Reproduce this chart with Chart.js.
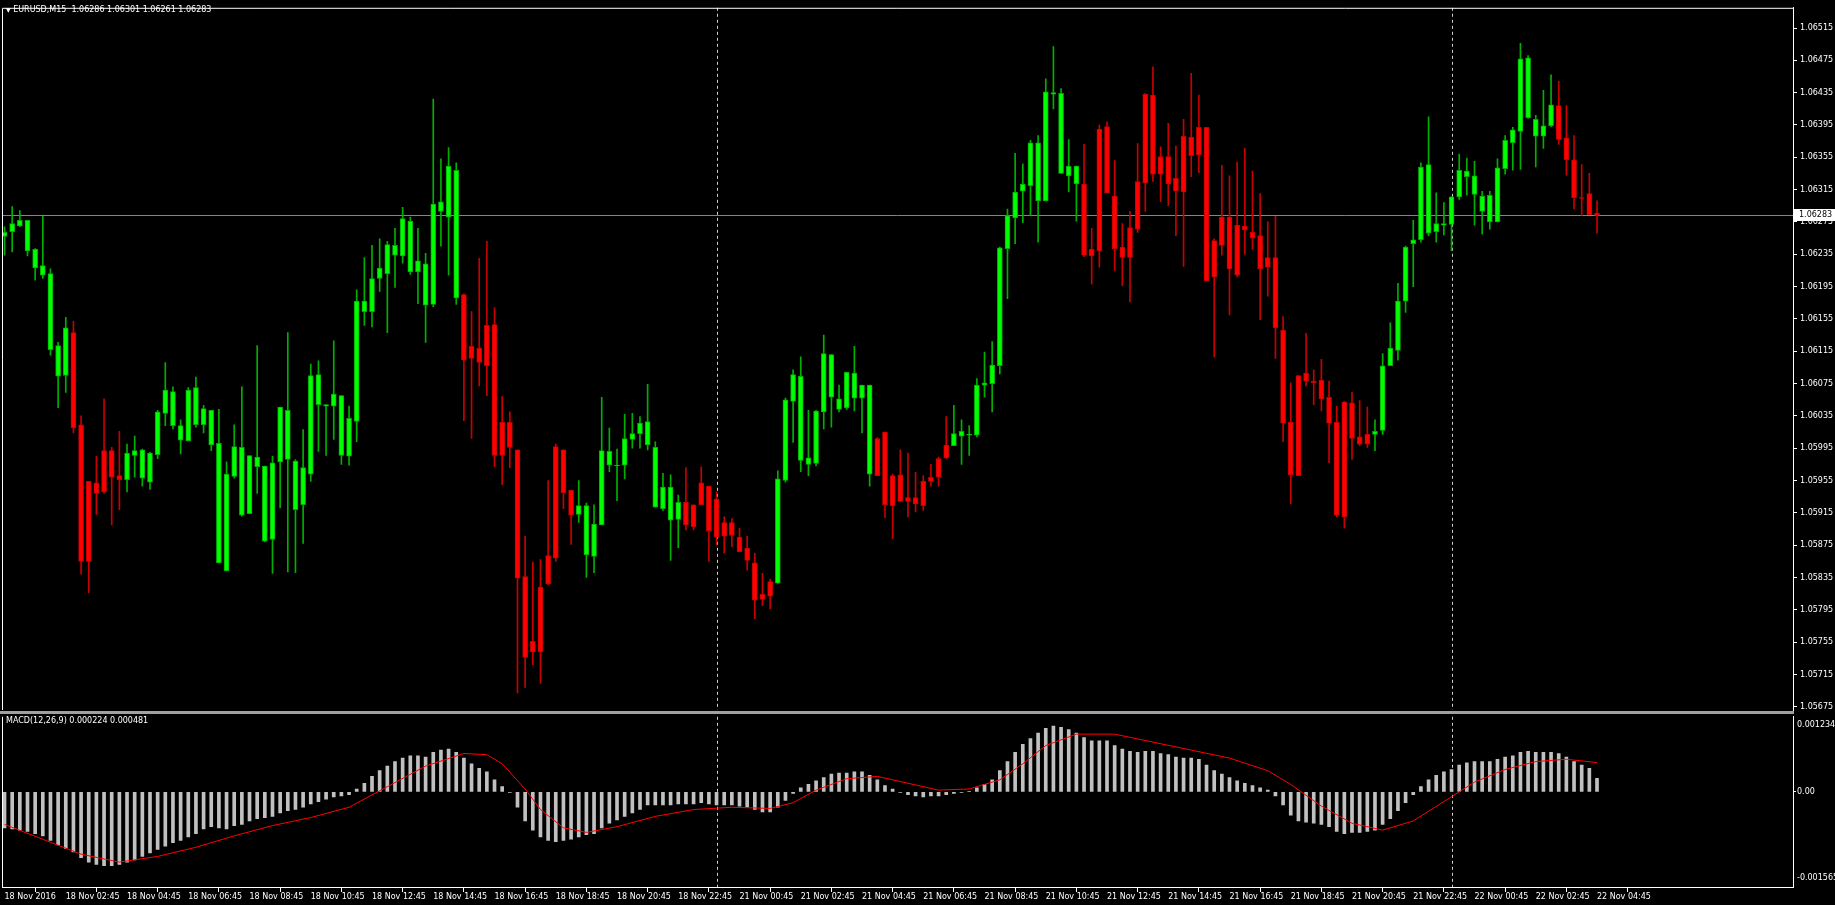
<!DOCTYPE html>
<html>
<head>
<meta charset="utf-8">
<title>EURUSD,M15</title>
<script src="https://cdn.jsdelivr.net/npm/chart.js@4.4.0/dist/chart.umd.min.js"></script>
<style>
  body { margin: 0; background: #000; width: 1835px; height: 905px; overflow: hidden; position: relative; font-family: "DejaVu Sans", sans-serif; }
  canvas { position: absolute; left: 0; }
  #price { top: 0; }
  #macd { top: 711px; }
  .lbl { position: absolute; color: #fff; font-size: 8px; white-space: pre; line-height: 10px; }
  .tri { font-size: 6px; }
</style>
</head>
<body>
<canvas id="price" width="1835" height="725"></canvas>
<canvas id="macd" width="1835" height="194"></canvas>
<div class="lbl" style="left:6px;top:5px;"><span class="tri">&#9660;</span> EURUSD,M15  1.06286 1.06301 1.06261 1.06283</div>
<div class="lbl" style="left:6px;top:716px;">MACD(12,26,9) 0.000224 0.000481</div>
<script>
// EURUSD M15, 18 Nov 2016 00:45 .. 22 Nov 2016 04:45 (bar 0 .. bar 208)
var open = [1.06257,1.06263,1.06270,1.06239,1.06218,1.06209,1.06117,1.06084,1.06085,1.06138,
  1.06024,1.05954,1.05952,1.05992,1.05992,1.05961,1.05956,1.05986,1.05958,1.05953,
  1.05987,1.06038,1.06023,1.06005,1.06004,1.06024,1.06024,1.05999,1.05853,1.05843,
  1.05960,1.05912,1.05914,1.05972,1.05880,1.05882,1.05978,1.05981,1.05919,1.05925,
  1.05963,1.06049,1.06047,1.06047,1.05986,1.05985,1.06028,1.06164,1.06164,1.06205,
  1.06211,1.06234,1.06233,1.06213,1.06213,1.06172,1.06173,1.06288,1.06281,1.06181,
  1.06185,1.06121,1.06119,1.06147,1.06148,1.06027,1.06027,1.05993,1.05836,1.05756,
  1.05823,1.05862,1.05997,1.05993,1.05943,1.05913,1.05863,1.05861,1.05900,1.05974,
  1.05973,1.05974,1.06006,1.06013,1.05999,1.05922,1.05920,1.05906,1.05907,1.05928,
  1.05925,1.05952,1.05948,1.05932,1.05903,1.05903,1.05885,1.05871,1.05853,1.05814,
  1.05830,1.05828,1.05955,1.06053,1.05980,1.05975,1.05976,1.06040,1.06058,1.06043,
  1.06045,1.06057,1.06057,1.05963,1.06007,1.06015,1.05961,1.05962,1.05934,1.05934,
  1.05954,1.05959,1.05982,1.05999,1.05998,1.06010,1.06011,1.06011,1.06073,1.06075,
  1.06097,1.06242,1.06280,1.06313,1.06320,1.06301,1.06301,1.06433,1.06335,1.06332,
  1.06322,1.06322,1.06241,1.06390,1.06393,1.06307,1.06244,1.06268,1.06325,1.06433,
  1.06432,1.06356,1.06356,1.06329,1.06381,1.06380,1.06392,1.06392,1.06252,1.06281,
  1.06281,1.06271,1.06270,1.06262,1.06258,1.06231,1.06231,1.06141,1.06027,1.06085,
  1.06088,1.06078,1.06079,1.06058,1.06027,1.06052,1.06051,1.06009,1.06012,1.06012,
  1.06017,1.06097,1.06116,1.06177,1.06248,1.06253,1.06261,1.06263,1.06271,1.06272,
  1.06306,1.06331,1.06309,1.06288,1.06275,1.06275,1.06341,1.06373,1.06387,1.06404,
  1.06381,1.06381,1.06394,1.06419,1.06379,1.06352,1.06305,1.06310,1.06286];
var high = [1.06269,1.06294,1.06289,1.06277,1.06242,1.06282,1.06217,1.06126,1.06157,1.06152,
  1.06035,1.05954,1.05985,1.06056,1.05996,1.06016,1.06000,1.06010,1.05994,1.05990,
  1.06042,1.06101,1.06071,1.06030,1.06070,1.06083,1.06048,1.06042,1.06043,1.05978,
  1.06024,1.06071,1.05986,1.06122,1.05973,1.05985,1.06046,1.06138,1.05981,1.06018,
  1.06099,1.06103,1.06049,1.06128,1.06060,1.06047,1.06191,1.06231,1.06246,1.06254,
  1.06251,1.06267,1.06293,1.06281,1.06267,1.06236,1.06427,1.06353,1.06367,1.06348,
  1.06186,1.06164,1.06230,1.06251,1.06169,1.06059,1.06040,1.05993,1.05886,1.05854,
  1.05857,1.05955,1.06000,1.05993,1.05943,1.05955,1.05927,1.05925,1.06058,1.06020,
  1.05994,1.06037,1.06038,1.06034,1.06074,1.06003,1.05964,1.05962,1.05937,1.05971,
  1.05925,1.05972,1.05948,1.05941,1.05910,1.05908,1.05896,1.05886,1.05865,1.05840,
  1.05833,1.05967,1.06057,1.06092,1.06108,1.06042,1.06042,1.06135,1.06111,1.06073,
  1.06089,1.06121,1.06073,1.06073,1.06008,1.06015,1.05963,1.05993,1.05989,1.05965,
  1.05961,1.05975,1.05984,1.06034,1.06048,1.06030,1.06023,1.06081,1.06114,1.06127,
  1.06244,1.06291,1.06360,1.06347,1.06376,1.06382,1.06452,1.06492,1.06440,1.06377,
  1.06344,1.06371,1.06267,1.06395,1.06399,1.06351,1.06273,1.06288,1.06372,1.06434,
  1.06467,1.06368,1.06397,1.06369,1.06402,1.06459,1.06432,1.06392,1.06254,1.06345,
  1.06332,1.06349,1.06366,1.06338,1.06310,1.06275,1.06282,1.06158,1.06076,1.06085,
  1.06137,1.06092,1.06105,1.06078,1.06047,1.06053,1.06064,1.06054,1.06046,1.06030,
  1.06112,1.06150,1.06199,1.06245,1.06277,1.06348,1.06405,1.06311,1.06299,1.06306,
  1.06359,1.06354,1.06350,1.06313,1.06313,1.06353,1.06382,1.06392,1.06496,1.06481,
  1.06407,1.06438,1.06457,1.06449,1.06419,1.06382,1.06346,1.06335,1.06301];
var low = [1.06234,1.06238,1.06269,1.06233,1.06203,1.06205,1.06110,1.06045,1.06064,1.06014,
  1.05839,1.05816,1.05913,1.05939,1.05900,1.05919,1.05941,1.05959,1.05948,1.05944,
  1.05982,1.06023,1.06019,1.05988,1.06004,1.06021,1.06014,1.05992,1.05853,1.05843,
  1.05958,1.05911,1.05914,1.05939,1.05879,1.05840,1.05921,1.05842,1.05841,1.05877,
  1.05954,1.05991,1.05986,1.06006,1.05975,1.05974,1.06003,1.06147,1.06145,1.06189,
  1.06138,1.06194,1.06224,1.06210,1.06174,1.06126,1.06170,1.06245,1.06209,1.06173,
  1.06029,1.06007,1.06072,1.06060,1.05972,1.05950,1.05971,1.05692,1.05699,1.05727,
  1.05704,1.05826,1.05855,1.05920,1.05876,1.05903,1.05835,1.05841,1.05900,1.05966,
  1.05930,1.05957,1.05995,1.05995,1.05993,1.05922,1.05918,1.05856,1.05872,1.05894,
  1.05894,1.05925,1.05855,1.05875,1.05865,1.05873,1.05867,1.05844,1.05784,1.05800,
  1.05796,1.05828,1.05953,1.06002,1.05966,1.05961,1.05973,1.06019,1.06021,1.06040,
  1.06043,1.06041,1.06014,1.05948,1.05961,1.05909,1.05883,1.05929,1.05910,1.05916,
  1.05918,1.05948,1.05948,1.05982,1.05998,1.05975,1.05986,1.06009,1.06058,1.06040,
  1.06087,1.06180,1.06248,1.06274,1.06283,1.06250,1.06301,1.06415,1.06335,1.06312,
  1.06276,1.06232,1.06198,1.06219,1.06311,1.06215,1.06196,1.06176,1.06262,1.06288,
  1.06325,1.06300,1.06295,1.06258,1.06220,1.06331,1.06336,1.06202,1.06108,1.06234,
  1.06160,1.06207,1.06235,1.06241,1.06154,1.06183,1.06106,1.06003,1.05926,1.05961,
  1.06072,1.06049,1.06041,1.05977,1.05910,1.05896,1.05981,1.05998,1.05996,1.05992,
  1.06012,1.06097,1.06104,1.06163,1.06195,1.06250,1.06258,1.06250,1.06259,1.06239,
  1.06303,1.06308,1.06271,1.06260,1.06266,1.06275,1.06334,1.06339,1.06340,1.06403,
  1.06343,1.06366,1.06393,1.06371,1.06333,1.06291,1.06283,1.06284,1.06261];
var close = [1.06262,1.06273,1.06277,1.06277,1.06241,1.06221,1.06211,1.06122,1.06144,1.06020,
  1.05855,1.05855,1.05939,1.05941,1.05959,1.05956,1.05989,1.05992,1.05993,1.05989,
  1.06040,1.06067,1.06065,1.06023,1.06067,1.06070,1.06044,1.06042,1.06001,1.05963,
  1.05997,1.05996,1.05986,1.05984,1.05973,1.05977,1.06046,1.06042,1.05979,1.05971,
  1.06085,1.06086,1.06049,1.06062,1.06060,1.06032,1.06177,1.06177,1.06205,1.06218,
  1.06247,1.06246,1.06279,1.06276,1.06227,1.06223,1.06297,1.06300,1.06344,1.06339,
  1.06104,1.06106,1.06101,1.06097,1.05986,1.05986,1.05996,1.05834,1.05736,1.05743,
  1.05743,1.05827,1.05859,1.05940,1.05912,1.05924,1.05924,1.05901,1.05992,1.05991,
  1.05974,1.06007,1.06013,1.06026,1.06028,1.05996,1.05947,1.05947,1.05928,1.05900,
  1.05898,1.05925,1.05893,1.05885,1.05886,1.05887,1.05867,1.05856,1.05807,1.05808,
  1.05812,1.05957,1.06055,1.06086,1.06084,1.05983,1.06041,1.06112,1.06111,1.06056,
  1.06089,1.06088,1.06073,1.06073,1.05961,1.05925,1.05924,1.05929,1.05929,1.05926,
  1.05924,1.05954,1.05959,1.05983,1.06013,1.06016,1.06012,1.06073,1.06076,1.06098,
  1.06243,1.06283,1.06312,1.06322,1.06373,1.06373,1.06436,1.06435,1.06434,1.06344,
  1.06344,1.06234,1.06233,1.06239,1.06311,1.06242,1.06231,1.06231,1.06266,1.06323,
  1.06334,1.06334,1.06322,1.06313,1.06312,1.06357,1.06358,1.06202,1.06207,1.06246,
  1.06217,1.06209,1.06265,1.06255,1.06217,1.06219,1.06144,1.06026,1.05962,1.05961,
  1.06078,1.06076,1.06056,1.06026,1.05912,1.05910,1.06007,1.06000,1.06000,1.06016,
  1.06097,1.06119,1.06177,1.06244,1.06253,1.06343,1.06346,1.06273,1.06273,1.06306,
  1.06339,1.06338,1.06332,1.06307,1.06308,1.06342,1.06376,1.06389,1.06477,1.06478,
  1.06402,1.06394,1.06420,1.06377,1.06352,1.06305,1.06304,1.06284,1.06283];

// MACD(12,26,9) main line, one value per bar
var macdMain = [-0.000592,-0.000611,-0.000630,-0.000649,-0.000686,-0.000724,-0.000799,-0.000874,-0.000931,-0.000987,
  -0.001081,-0.001156,-0.001194,-0.001213,-0.001213,-0.001194,-0.001156,-0.001119,-0.001062,-0.001006,
  -0.000949,-0.000893,-0.000837,-0.000799,-0.000743,-0.000686,-0.000611,-0.000573,-0.000592,-0.000611,
  -0.000555,-0.000536,-0.000479,-0.000442,-0.000423,-0.000404,-0.000348,-0.000310,-0.000291,-0.000254,
  -0.000197,-0.000160,-0.000122,-0.000085,-0.000066,-0.000047,0.000047,0.000141,0.000254,0.000348,
  0.000423,0.000498,0.000555,0.000592,0.000592,0.000573,0.000649,0.000686,0.000705,0.000649,
  0.000555,0.000461,0.000385,0.000329,0.000197,0.000085,-0.000009,-0.000254,-0.000479,-0.000630,
  -0.000743,-0.000799,-0.000818,-0.000799,-0.000780,-0.000743,-0.000705,-0.000686,-0.000592,-0.000517,
  -0.000461,-0.000404,-0.000348,-0.000291,-0.000216,-0.000216,-0.000216,-0.000216,-0.000197,-0.000197,
  -0.000197,-0.000179,-0.000197,-0.000216,-0.000216,-0.000216,-0.000235,-0.000254,-0.000291,-0.000329,
  -0.000329,-0.000254,-0.000141,-0.000028,0.000066,0.000122,0.000179,0.000235,0.000291,0.000310,
  0.000310,0.000329,0.000329,0.000273,0.000197,0.000103,0.000047,-0.000009,-0.000047,-0.000066,
  -0.000085,-0.000066,-0.000066,-0.000047,-0.000028,-0.000009,0.000009,0.000066,0.000122,0.000197,
  0.000348,0.000498,0.000649,0.000780,0.000874,0.000968,0.001043,0.001081,0.001062,0.001025,
  0.000968,0.000893,0.000837,0.000837,0.000837,0.000761,0.000705,0.000667,0.000649,0.000667,
  0.000667,0.000630,0.000611,0.000573,0.000555,0.000555,0.000536,0.000442,0.000348,0.000291,
  0.000235,0.000179,0.000141,0.000103,0.000066,0.000028,-0.000066,-0.000216,-0.000385,-0.000479,
  -0.000498,-0.000517,-0.000536,-0.000573,-0.000649,-0.000686,-0.000667,-0.000667,-0.000649,-0.000630,
  -0.000536,-0.000442,-0.000310,-0.000179,-0.000047,0.000085,0.000197,0.000273,0.000329,0.000367,
  0.000442,0.000479,0.000498,0.000498,0.000498,0.000536,0.000573,0.000592,0.000649,0.000667,
  0.000649,0.000649,0.000649,0.000630,0.000573,0.000498,0.000442,0.000385,0.000224];

// signal line, read at these bars
var signalBars = [0,5,10,15,20,25,30,35,40,45,50,55,60,63,65,68,70,73,76,80,85,90,95,100,103,106,110,114,118,122,126,
  130,133,136,140,145,150,155,160,165,168,172,176,180,184,188,192,196,200,204,208];
var signalValues = [-0.000536,-0.000780,-0.001025,-0.001156,-0.001062,-0.000912,-0.000724,-0.000555,-0.000423,-0.000254,
  0.000085,0.000423,0.000630,0.000611,0.000461,0.000047,-0.000291,-0.000592,-0.000667,-0.000573,-0.000404,
  -0.000291,-0.000254,-0.000273,-0.000179,0.000028,0.000216,0.000254,0.000141,0.000028,0.000047,
  0.000197,0.000461,0.000761,0.000949,0.000949,0.000818,0.000686,0.000555,0.000348,0.000122,
  -0.000235,-0.000517,-0.000630,-0.000479,-0.000160,0.000160,0.000367,0.000498,0.000536,0.000481];

var timeLabels = ['18 Nov 2016','18 Nov 02:45','18 Nov 04:45','18 Nov 06:45','18 Nov 08:45','18 Nov 10:45',
  '18 Nov 12:45','18 Nov 14:45','18 Nov 16:45','18 Nov 18:45','18 Nov 20:45','18 Nov 22:45',
  '21 Nov 00:45','21 Nov 02:45','21 Nov 04:45','21 Nov 06:45','21 Nov 08:45','21 Nov 10:45',
  '21 Nov 12:45','21 Nov 14:45','21 Nov 16:45','21 Nov 18:45','21 Nov 20:45','21 Nov 22:45',
  '22 Nov 00:45','22 Nov 02:45','22 Nov 04:45'];
var priceTickLabels = ['1.06515','1.06475','1.06435','1.06395','1.06355','1.06315','1.06275','1.06235',
  '1.06195','1.06155','1.06115','1.06075','1.06035','1.05995','1.05955','1.05915','1.05875',
  '1.05835','1.05795','1.05755','1.05715','1.05675'];
var macdTickLabels = ['0.001234','0.00','-0.001565'];
var bidPrice = 1.06283;
var daySeparators = [93, 189];   // 21 Nov 00:00, 22 Nov 00:00

var labelEvery = 8;
var xMin = -0.33, xMax = 233.6;
var font8 = { family: 'DejaVu Sans', size: 8 };

var bullBody = '#00ff00', bearBody = '#ff0000';
var bullWick = '#00b000', bearWick = '#c80000';

var bars = open.map(function (o, i) { return i; });
var isBull = bars.map(function (i) { return close[i] >= open[i]; });

function fixWidth(w) { return function (s) { s.width = w; }; }

function drawSeparators(chart) {
  var ctx = chart.ctx, area = chart.chartArea, x = chart.scales.x;
  ctx.save();
  ctx.strokeStyle = '#d0d0d0';
  ctx.lineWidth = 1;
  ctx.setLineDash([3, 3]);
  daySeparators.forEach(function (b) {
    var px = Math.round(x.getPixelForValue(b)) + 0.5;
    ctx.beginPath();
    ctx.moveTo(px, area.top);
    ctx.lineTo(px, area.bottom);
    ctx.stroke();
  });
  ctx.restore();
}

var priceFrame = {
  id: 'priceFrame',
  beforeDatasetsDraw: function (chart) {
    var ctx = chart.ctx, area = chart.chartArea, y = chart.scales.y;
    drawSeparators(chart);
    var py = Math.round(y.getPixelForValue(bidPrice)) + 0.5;
    ctx.save();
    ctx.strokeStyle = '#778899';
    ctx.beginPath();
    ctx.moveTo(area.left, py);
    ctx.lineTo(area.right, py);
    ctx.stroke();
    ctx.restore();
  },
  afterDraw: function (chart) {
    var ctx = chart.ctx, area = chart.chartArea, y = chart.scales.y;
    ctx.save();
    ctx.strokeStyle = '#ffffff';
    ctx.lineWidth = 1;
    ctx.beginPath();
    ctx.moveTo(area.left + 0.5, area.bottom);
    ctx.lineTo(area.left + 0.5, area.top + 0.5);
    ctx.lineTo(area.right, area.top + 0.5);
    ctx.stroke();
    var py = Math.round(y.getPixelForValue(bidPrice));
    ctx.fillStyle = '#ffffff';
    ctx.fillRect(area.right + 1, py - 6, 41, 12);
    ctx.fillStyle = '#000000';
    ctx.font = '8px "DejaVu Sans"';
    ctx.textBaseline = 'middle';
    ctx.fillText(bidPrice.toFixed(5), area.right + 6, py);
    ctx.restore();
  }
};

var macdFrame = {
  id: 'macdFrame',
  beforeDatasetsDraw: function (chart) { drawSeparators(chart); },
  afterDraw: function (chart) {
    var ctx = chart.ctx, area = chart.chartArea;
    ctx.save();
    ctx.strokeStyle = '#ffffff';
    ctx.beginPath();
    ctx.moveTo(area.left + 0.5, area.top);
    ctx.lineTo(area.left + 0.5, area.bottom);
    ctx.stroke();
    ctx.fillStyle = '#a0a0a0';
    ctx.fillRect(0, 0, area.right + 1, 3);
    ctx.restore();
  }
};

new Chart(document.getElementById('price'), {
  type: 'bar',
  data: {
    datasets: [{
      label: 'wick',
      data: bars.map(function (i) { return { x: i, y: [low[i], high[i]] }; }),
      backgroundColor: bars.map(function (i) { return isBull[i] ? bullWick : bearWick; }),
      barThickness: 1,
      grouped: false,
      order: 2
    }, {
      label: 'body',
      data: bars.map(function (i) { return { x: i, y: [open[i], close[i]] }; }),
      backgroundColor: bars.map(function (i) { return isBull[i] ? bullBody : bearBody; }),
      borderColor: bars.map(function (i) { return isBull[i] ? bullWick : bearWick; }),
      borderWidth: 1,
      borderSkipped: false,
      minBarLength: 1,
      barThickness: 5,
      grouped: false,
      order: 1
    }]
  },
  options: {
    responsive: false,
    animation: false,
    devicePixelRatio: 1,
    layout: { padding: { left: 2, top: 3, right: 0, bottom: 15 } },
    plugins: { legend: { display: false }, tooltip: { enabled: false } },
    scales: {
      x: { type: 'linear', min: xMin, max: xMax, offset: false, display: false },
      y: {
        position: 'right',
        min: 1.05671, max: 1.06540,
        afterFit: fixWidth(42),
        afterBuildTicks: function (s) {
          s.ticks = priceTickLabels.map(function (t) { return { value: parseFloat(t) }; });
        },
        ticks: {
          color: '#ffffff', font: font8, padding: 3, autoSkip: false,
          callback: function (v, idx) { return priceTickLabels[idx]; }
        },
        grid: { drawOnChartArea: false, color: '#ffffff', tickLength: 4 },
        border: { display: true, color: '#ffffff' }
      }
    }
  },
  plugins: [priceFrame]
});

new Chart(document.getElementById('macd'), {
  type: 'bar',
  data: {
    datasets: [{
      type: 'line',
      label: 'Signal',
      data: signalBars.map(function (b, k) { return { x: b, y: signalValues[k] }; }),
      borderColor: '#ff0000',
      borderWidth: 1,
      pointRadius: 0,
      tension: 0,
      order: 1
    }, {
      label: 'MACD',
      data: bars.map(function (i) { return { x: i, y: macdMain[i] }; }),
      backgroundColor: '#c0c0c0',
      barThickness: 3,
      order: 2
    }]
  },
  options: {
    responsive: false,
    animation: false,
    devicePixelRatio: 1,
    layout: { padding: { left: 2, top: 2, right: 0, bottom: 0 } },
    plugins: { legend: { display: false }, tooltip: { enabled: false } },
    scales: {
      x: {
        type: 'linear', min: xMin, max: xMax, offset: false,
        afterFit: function (s) { s.height = 18; },
        afterBuildTicks: function (s) {
          s.ticks = timeLabels.map(function (t, k) { return { value: k * labelEvery }; });
        },
        ticks: {
          color: '#ffffff', font: font8, padding: 0, autoSkip: false, maxRotation: 0, align: 'start',
          callback: function (v, idx) { return timeLabels[idx]; }
        },
        grid: { drawOnChartArea: false, color: '#ffffff', tickLength: 5 },
        border: { display: true, color: '#ffffff' }
      },
      y: {
        position: 'right',
        min: -0.001565, max: 0.001234,
        afterFit: fixWidth(42),
        afterBuildTicks: function (s) {
          var perPx = (s.max - s.min) / (s.bottom - s.top || 174);
          s.ticks = [{ value: s.max - 8 * perPx }, { value: 0 }, { value: s.min + 9 * perPx }];
        },
        ticks: {
          color: '#ffffff', font: font8, padding: 1, autoSkip: false,
          callback: function (v, idx) { return macdTickLabels[idx]; }
        },
        grid: {
          drawOnChartArea: false, tickLength: 3,
          tickColor: function (c) { return c.index === 1 ? '#ffffff' : 'rgba(0,0,0,0)'; }
        },
        border: { display: true, color: '#ffffff' }
      }
    }
  },
  plugins: [macdFrame]
});
</script>
</body>
</html>
